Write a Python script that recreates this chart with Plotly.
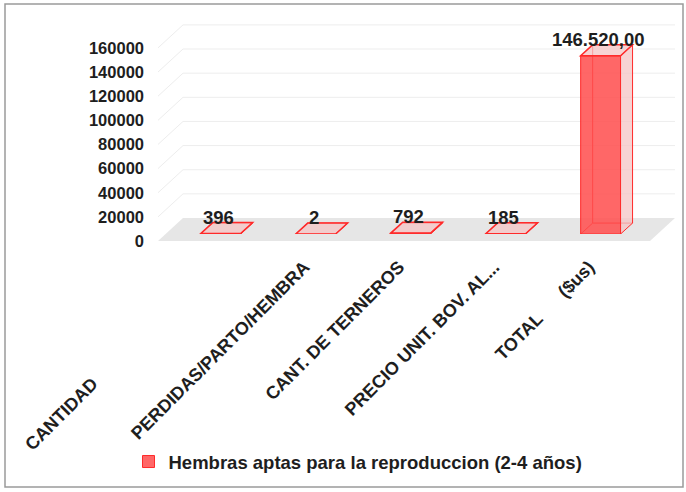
import plotly.graph_objects as go

NBSP = "\u00a0"

# datos
categorias = ["CANTIDAD" + NBSP * 33, "PERDIDAS/PARTO/HEMBRA", "CANT. DE TERNEROS",
              "PRECIO UNIT. BOV. AL...", "TOTAL" + NBSP * 6 + "($us)"]
valores = [396, 2, 792, 185, 146520]
etiquetas = ["396", "2", "792", "185", "146.520,00"]
serie = "Hembras aptas para la reproduccion (2-4 años)"
y_ticks = [0, 20000, 40000, 60000, 80000, 100000, 120000, 140000, 160000]

# layout en pixeles
W, H = 686, 492
L, R, T, B = 158, 36, 20, 247
PW, PH = W - L - R, H - T - B
YMAX = 160000
XR = [-0.66, len(valores) - 0.48]
PX_X = PW / (XR[1] - XR[0])
BW = 0.42
LBL_SHIFT = 0.12           # etiquetas de categoria un poco a la izquierda


def dom(y_bot, y_top):
    return [(H - B - y_bot) / PH, (H - B - y_top) / PH]


Y1_DOM = dom(235, 39.5)   # caras frontales de barras
Y2_DOM = dom(242, 48)     # etiquetas del eje
PX_Y1 = (Y1_DOM[1] - Y1_DOM[0]) * PH / YMAX

# profundidad 3D
DXW, DYW = 25, 23          # paredes / piso
DXB, DYB = 12, 11          # barras
dxw = DXW / PW
dxb = DXB / PX_X
dyb = DYB / PX_Y1

FONT = "Liberation Sans, Arial, sans-serif"
TXT = "#1e1e1e"
RED = "#ff2a2a"
PINK = "rgba(244,196,196,0.75)"

xs = list(range(len(valores)))

fig = go.Figure()
fig.add_trace(go.Bar(
    x=xs, y=valores, width=BW, name=serie,
    marker=dict(color="rgba(255,76,76,0.85)", line=dict(color=RED, width=1)),
    hoverinfo="skip",
))
# traza auxiliar para los ejes de etiquetas
fig.add_trace(go.Scatter(x=[0], y=[0], xaxis="x2", yaxis="y2", mode="markers",
                         marker=dict(opacity=0), showlegend=False, hoverinfo="skip"))

shapes = []
# piso gris
shapes.append(dict(type="path", xref="paper", yref="y2 domain", ysizemode="pixel", yanchor=0,
                   path=f"M 0,0 L 1,0 L {1 + dxw},{DYW} L {dxw},{DYW} Z",
                   fillcolor="#e6e6e6", line=dict(width=0), layer="below"))
# lineas de cuadricula (pared lateral y fondo)
for v in y_ticks[1:]:
    f = v / YMAX
    shapes.append(dict(type="line", xref="paper", yref="y2 domain", ysizemode="pixel", yanchor=f,
                       x0=0, x1=dxw, y0=0, y1=DYW, line=dict(color="#ededed", width=1), layer="below"))
    shapes.append(dict(type="line", xref="paper", yref="y2 domain", ysizemode="pixel", yanchor=f,
                       x0=dxw, x1=1 + dxw, y0=DYW, y1=DYW, line=dict(color="#ededed", width=1), layer="below"))

# caras 3D de las barras
for i, v in zip(xs, valores):
    x0, x1 = i - BW / 2, i + BW / 2
    # aristas traseras (se ven a traves de la cara frontal)
    shapes.append(dict(type="path", xref="x", yref="y",
                       path=f"M {x0 + dxb},{dyb} L {x0 + dxb},{v + dyb} M {x0},{0} L {x0 + dxb},{dyb} L {x1 + dxb},{dyb}",
                       line=dict(color=RED, width=1), layer="below"))
    shapes.append(dict(type="path", xref="x", yref="y",
                       path=f"M {x1},0 L {x1 + dxb},{dyb} L {x1 + dxb},{v + dyb} L {x1},{v} Z",
                       fillcolor=PINK, line=dict(color=RED, width=1)))
    shapes.append(dict(type="path", xref="x", yref="y",
                       path=f"M {x0},{v} L {x1},{v} L {x1 + dxb},{v + dyb} L {x0 + dxb},{v + dyb} Z",
                       fillcolor=PINK, line=dict(color=RED, width=1.5)))

# marco
shapes.append(dict(type="rect", xref="paper", yref="paper",
                   x0=(5 - L) / PW, x1=(683 - L) / PW, y0=(H - B - 489) / PH, y1=(H - B - 4) / PH,
                   line=dict(color="#9a9a9a", width=1.5), fillcolor="rgba(0,0,0,0)", layer="below"))

annotations = []
for i, v, t in zip(xs, valores, etiquetas):
    annotations.append(dict(x=i, y=v, xref="x", yref="y", text=t, showarrow=False,
                            yanchor="bottom", yshift=DYB - 7, xshift=-2,
                            font=dict(family=FONT, size=18.5, color=TXT, weight="bold")))

fig.update_layout(
    width=W, height=H,
    margin=dict(l=L, r=R, t=T, b=B),
    paper_bgcolor="white", plot_bgcolor="rgba(0,0,0,0)",
    shapes=shapes, annotations=annotations,
    xaxis=dict(range=XR, visible=False),
    xaxis2=dict(range=[XR[0] + LBL_SHIFT, XR[1] + LBL_SHIFT], overlaying="x",
                tickvals=xs, ticktext=categorias, tickangle=-45,
                showgrid=False, zeroline=False, showline=False, ticks="",
                anchor="free", position=0, side="bottom", ticklabelstandoff=8, automargin=False,
                tickfont=dict(family=FONT, size=18, color=TXT, weight="bold")),
    yaxis=dict(range=[0, YMAX], domain=Y1_DOM, visible=False),
    yaxis2=dict(range=[0, YMAX], domain=Y2_DOM, anchor="free", position=0,
                tickvals=y_ticks, tickformat="d", showgrid=False, zeroline=False,
                showline=False, ticks="", ticklabelstandoff=14, automargin=False,
                tickfont=dict(family=FONT, size=16.5, color=TXT, weight="bold")),
    legend=dict(orientation="h", x=(358 - L) / PW, xanchor="center", y=(H - B - 462) / PH,
                yanchor="middle", font=dict(family=FONT, size=18.5, color=TXT, weight="bold")),
    showlegend=True,
)

fig.write_html("out.html", config={"displayModeBar": False},
               post_script="document.body.style.margin='0';")
